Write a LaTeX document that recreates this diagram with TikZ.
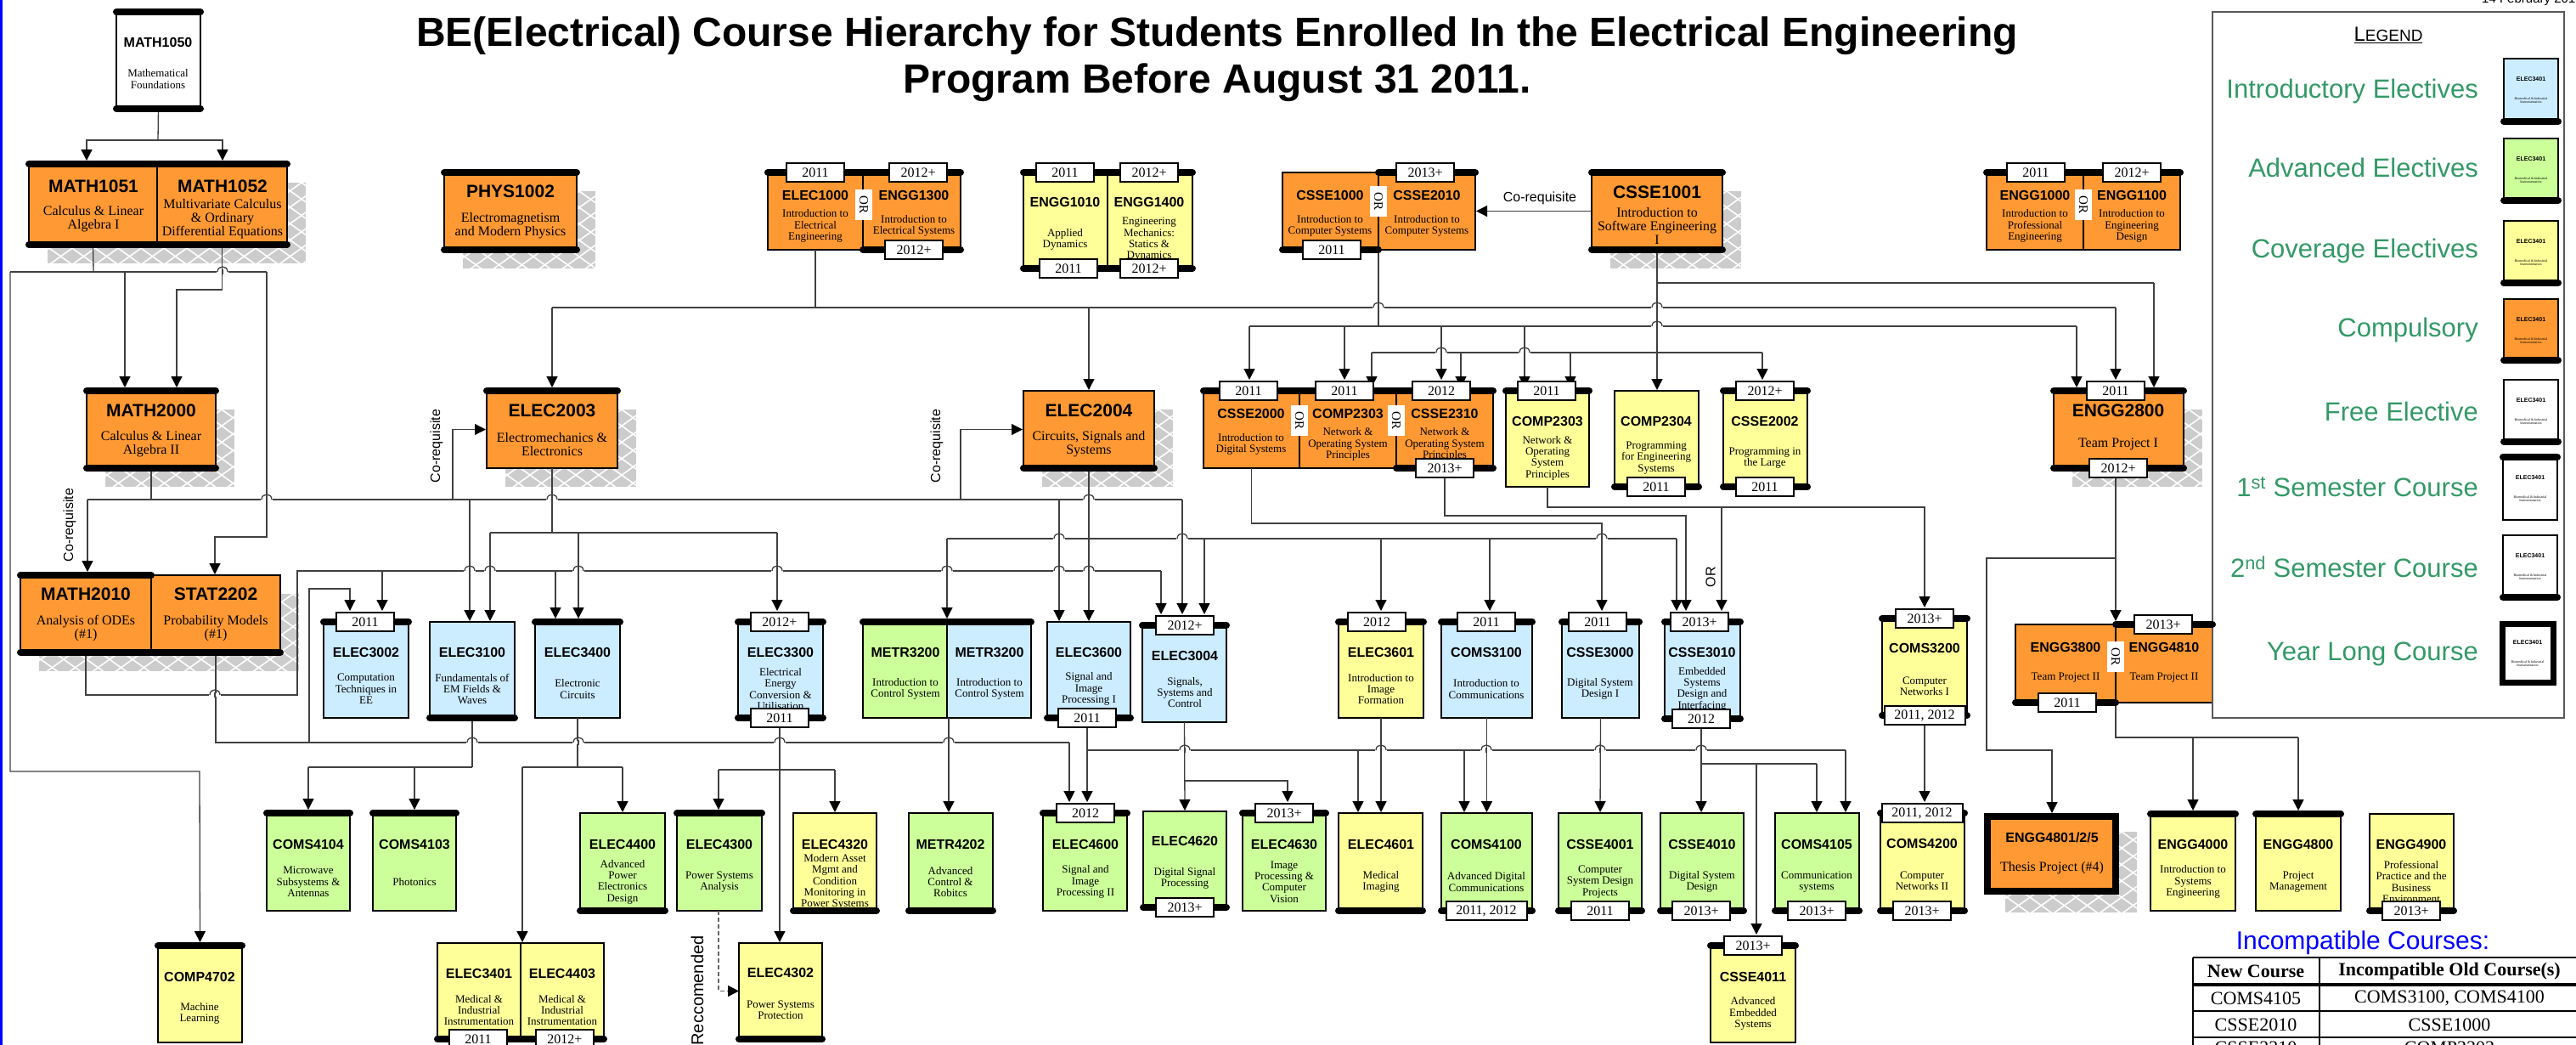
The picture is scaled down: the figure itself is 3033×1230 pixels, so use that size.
\documentclass[tikz,border=0pt]{standalone}
\usepackage{fontspec}
\setmainfont{Liberation Serif}
\setsansfont{Liberation Sans}
\usetikzlibrary{arrows.meta,fit}
\definecolor{cO}{RGB}{255,153,51}
\definecolor{cB}{RGB}{204,236,255}
\definecolor{cG}{RGB}{204,255,153}
\definecolor{cY}{RGB}{255,255,153}
\definecolor{cW}{RGB}{255,255,255}
\definecolor{legG}{RGB}{51,153,102}
\definecolor{shadc}{RGB}{204,204,204}
\newcommand\fCL{\fontsize{21}{21}\selectfont\sffamily\bfseries}
\newcommand\fCS{\fontsize{16}{16}\selectfont\sffamily\bfseries}
\newcommand\fDL{\fontsize{16}{16}\selectfont\rmfamily}
\newcommand\fDS{\fontsize{13}{13.4}\selectfont\rmfamily}
\newcommand\fTag{\fontsize{16}{16}\selectfont\rmfamily}
\newcommand\fLbl{\fontsize{16}{16}\selectfont\sffamily}
\newcommand\fLeg{\fontsize{31}{31}\selectfont\sffamily}
\tikzset{
  boxline/.style={draw=black,line width=2.5pt},
  bar/.style={draw=black,line width=8pt,line cap=round},
  wire/.style={draw=black!75,line width=1.3pt},
  arr/.style={wire,-{Triangle[length=13pt,width=13pt,color=black]},shorten >=1pt},
  arrb/.style={wire,-{Triangle[length=13pt,width=13pt,color=black]},shorten >=4pt},
  tagbox/.style={draw=black,line width=2pt,fill=white,minimum width=68pt,minimum height=22pt,inner sep=0pt,font=\fTag},
  widetag/.style={tagbox,minimum width=95pt},
  orbox/.style={fill=white,rotate=-90,inner xsep=8pt,inner ysep=5pt,font=\fontsize{15}{15}\selectfont\rmfamily},
  codeS/.style={font=\fCS,inner sep=0pt},
  codeL/.style={font=\fCL,inner sep=0pt},
  descS/.style={font=\fDS,align=center,inner sep=0pt},
  descL/.style={font=\fDL,align=center,inner sep=0pt},
  lbl/.style={font=\fLbl,inner sep=1pt},
  legtxt/.style={font=\fLeg,text=legG,anchor=east,inner sep=0pt},
}
\newcommand\crs[6]{%
  \filldraw[boxline,fill=#6] (#2,#3) rectangle (#4,#5);
  \node[inner sep=0pt,outer sep=0pt,fit={(#2,#3) (#4,#5)}] (#1) {};}
\newcommand\tbar[2]{\draw[bar] (#1.north west) -- (#2.north east);}
\newcommand\bbar[2]{\draw[bar] (#1.south west) -- (#2.south east);}
\newcommand\ytag[4]{\node[tagbox] (#1) at (#2,#3) {#4};}
\newcommand\wtag[4]{\node[widetag] (#1) at (#2,#3) {#4};}
\newcommand\crstx[6]{\node[codeS] (#1c) at (#2,#3) {#5};\node[descS] (#1d) at (#2,#4) {#6};}
\newcommand\crsTX[6]{\node[codeL] (#1c) at (#2,#3) {#5};\node[descL] (#1d) at (#2,#4) {#6};}
\newcommand\shadw[4]{\begin{scope}\clip (#1,#2) rectangle (#3,#4);
  \fill[shadc] (#1,#2) rectangle (#3,#4);
  \foreach \k in {-160,-133,...,480}{\draw[white,line width=1.6pt] (#1+\k,#2) -- ++(140,100);\draw[white,line width=1.6pt] (#1+\k,#2) -- ++(-140,100);}
  \end{scope}}
\newcommand\hopx[2]{\fill[white] (#1-6.8,#2-1.6) rectangle (#1+6.8,#2+1.6);
  \draw[wire] (#1,#2-3) -- (#1,#2+3);
  \draw[wire] (#1-6,#2) .. controls (#1-6,#2-8) and (#1+6,#2-8) .. (#1+6,#2);}
\newcommand\icontx[3]{\node[font=\fontsize{7}{7}\selectfont\sffamily\bfseries,inner sep=0pt] (#1c) at (#2,#3+24) {ELEC3401};
  \node[font=\fontsize{4}{4.6}\selectfont\rmfamily,align=center,inner sep=0pt] (#1d) at (#2,#3+49) {Biomedical \& Industrial\\Instrumentation};}
\begin{document}
\begin{tikzpicture}[x=1pt,y=-1pt]
\useasboundingbox (0,0) rectangle (3033,1230);
\fill[white] (0,0) rectangle (3033,1230);
\fill[blue] (0,0) rectangle (2.5,1230);
% ---------- shadows
\shadw{56}{215}{360}{310}
\shadw{545}{225}{701}{316}
\shadw{1896}{225}{2050}{316}
\shadw{124}{482}{276}{573}
\shadw{595}{482}{749}{573}
\shadw{1227}{482}{1381}{573}
\shadw{2440}{482}{2593}{573}
\shadw{46}{699}{352}{790}
\shadw{2361}{979}{2516}{1074}
% ---------- boxes
\crs{m1050}{137}{14}{236}{128}{cW}
\crs{m1051}{34}{193}{185}{288}{cO}
\crs{m1052}{185}{193}{338}{288}{cO}
\crs{phys1002}{523}{203}{679}{294}{cO}
\crs{elec1000}{904}{203}{1016}{294}{cO}
\crs{engg1300}{1016}{203}{1131}{294}{cO}
\crs{engg1010}{1205}{203}{1304}{316}{cY}
\crs{engg1400}{1304}{203}{1404}{316}{cY}
\crs{csse1000}{1510}{203}{1623}{294}{cO}
\crs{csse2010}{1623}{203}{1737}{294}{cO}
\crs{csse1001}{1874}{203}{2028}{294}{cO}
\crs{engg1000}{2339}{203}{2453}{294}{cO}
\crs{engg1100}{2453}{203}{2567}{294}{cO}
\crs{math2000}{102}{460}{254}{551}{cO}
\crs{elec2003}{573}{460}{727}{551}{cO}
\crs{elec2004}{1205}{460}{1359}{551}{cO}
\crs{csse2000}{1417}{460}{1530}{551}{cO}
\crs{comp2303a}{1530}{460}{1644}{551}{cO}
\crs{csse2310}{1644}{460}{1758}{551}{cO}
\crs{comp2303b}{1773}{460}{1871}{573}{cY}
\crs{comp2304}{1901}{460}{2000}{573}{cY}
\crs{csse2002}{2029}{460}{2128}{573}{cY}
\crs{engg2800}{2418}{460}{2571}{551}{cO}
\crs{math2010}{24}{677}{178}{768}{cO}
\crs{stat2202}{178}{677}{330}{768}{cO}
\crs{elec3002}{381}{732}{481}{845}{cB}
\crs{elec3100}{506}{732}{606}{845}{cB}
\crs{elec3400}{630}{732}{730}{845}{cB}
\crs{elec3300}{869}{732}{969}{845}{cB}
\crs{metr3200a}{1016}{732}{1115}{845}{cG}
\crs{metr3200b}{1115}{732}{1214}{845}{cB}
\crs{elec3600}{1233}{732}{1331}{845}{cB}
\crs{elec3004}{1345}{736}{1444}{850}{cB}
\crs{elec3601}{1576}{732}{1676}{845}{cY}
\crs{coms3100}{1697}{732}{1804}{845}{cB}
\crs{csse3000}{1839}{732}{1930}{845}{cB}
\crs{csse3010}{1960}{732}{2049}{846}{cB}
\crs{coms3200}{2216}{728}{2316}{842}{cY}
\crs{engg3800}{2373}{735}{2491}{827}{cO}
\crs{engg4810}{2491}{735}{2605}{827}{cO}
\crs{coms4104}{314}{957}{412}{1072}{cG}
\crs{coms4103}{439}{957}{537}{1072}{cG}
\crs{elec4400}{683}{957}{783}{1072}{cG}
\crs{elec4300}{797}{957}{897}{1072}{cG}
\crs{elec4320}{934}{957}{1032}{1072}{cY}
\crs{metr4202}{1070}{957}{1169}{1072}{cG}
\crs{elec4600}{1228}{957}{1327}{1072}{cG}
\crs{elec4620}{1346}{955}{1444}{1068}{cG}
\crs{elec4630}{1463}{957}{1561}{1072}{cG}
\crs{elec4601}{1576}{957}{1675}{1072}{cY}
\crs{coms4100}{1697}{957}{1804}{1072}{cG}
\crs{csse4001}{1835}{957}{1933}{1072}{cG}
\crs{csse4010}{1955}{957}{2053}{1072}{cG}
\crs{coms4105}{2090}{957}{2189}{1072}{cG}
\crs{coms4200}{2214}{957}{2313}{1072}{cY}
\filldraw[draw=black,line width=8pt,fill=cO] (2340,961) rectangle (2491,1049);
\node[inner sep=0pt,outer sep=0pt,fit={(2340,961) (2491,1049)}] (engg4801) {};
\crs{engg4000}{2532}{958}{2632}{1072}{cY}
\crs{engg4800}{2656}{958}{2756}{1072}{cY}
\crs{engg4900}{2790}{958}{2889}{1072}{cY}
\crs{comp4702}{186}{1113}{285}{1227}{cY}
\crs{elec3401}{515}{1110}{613}{1223}{cY}
\crs{elec4403}{613}{1110}{711}{1223}{cY}
\crs{elec4302}{870}{1110}{968}{1223}{cY}
\crs{csse4011}{2014}{1113}{2114}{1227}{cY}
% ---------- legend frame
\node[draw=black!65,line width=1.5pt,inner sep=0pt,fit={(2605,14) (3019,845)}] (legendbox) {};
% ---------- tags (defined early for wire ends, drawn later on top)
\begin{scope}[opacity=0]
\ytag{tgA}{1470}{460}{2011}
\ytag{tgB}{1583}{460}{2011}
\ytag{tgC}{1697}{460}{2012}
\ytag{tgD}{1701}{551}{2013+}
\ytag{tgE}{1821}{460}{2011}
\ytag{tgF}{2078}{460}{2012+}
\ytag{tgG}{2491}{460}{2011}
\ytag{tgH}{2494}{551}{2012+}
\ytag{tgI}{430}{732}{2011}
\ytag{tgJ}{918}{732}{2012+}
\ytag{tgK}{918}{845}{2011}
\ytag{tgL}{1280}{845}{2011}
\ytag{tgM}{1395}{736}{2012+}
\ytag{tgN}{1621}{732}{2012}
\ytag{tgO}{1750}{732}{2011}
\ytag{tgP}{1881}{732}{2011}
\ytag{tgQ}{2001}{732}{2013+}
\ytag{tgR}{2003}{846}{2012}
\ytag{tgS}{2266}{728}{2013+}
\wtag{tgT}{2266}{842}{2011, 2012}
\ytag{tgU}{1278}{957}{2012}
\ytag{tgV}{1512}{957}{2013+}
\wtag{tgW}{2263}{957}{2011, 2012}
\ytag{tgX}{2064}{1113}{2013+}
\end{scope}
% ---------- wires
\draw[wire] (m1050.south) -- (186,165);
\draw[arrb] (186,165) -| (102,0 |- m1051.north);
\draw[arrb] (186,165) -| (262,0 |- m1052.north);
\draw[wire] (m1051.south) -- (110,320);
\draw[wire] (12,320) -- (314,320);
\draw[arrb] (12,320) |- (235,908) -- (comp4702.north);
\draw[arrb] (147,320) -- (147,0 |- math2000.north);
\draw[arr] (314,320) |- (253,632) -- (253,0 |- stat2202.north);
\draw[arrb] (m1052.south) |- (208,341) -- (208,0 |- math2000.north);
\draw[wire] (elec1000.south) -- (960,362);
\draw[wire] (650,362) -- (2491,362);
\draw[arrb] (650,362) -- (elec2003.north);
\draw[arr] (1282,362) -- (elec2004.north);
\draw[arr] (2491,362) -- (tgG.north);
\draw[wire] (csse1000.south east) -- (1623,384);
\draw[wire] (1471,384) -- (2445,384);
\draw[arr] (1471,384) -- (1471,0 |- tgA.north);
\draw[arr] (1583,384) -- (1583,0 |- tgB.north);
\draw[arr] (1697,384) -- (1697,0 |- tgC.north);
\draw[arrb] (1795,384) -- (1795,0 |- comp2303b.north);
\draw[arrb] (2445,384) -- (2445,0 |- engg2800.north);
\draw[arr] (csse1001.south) -- (1951,0 |- comp2304.north);
\draw[wire] (1951,333) -- (2536,333);
\draw[arrb] (2536,333) -- (2536,0 |- engg2800.north);
\draw[wire] (1615,415) -- (2075,415);
\draw[arrb] (1615,415) -- (1615,0 |- comp2303a.north);
\draw[arrb] (1720,415) -- (1720,0 |- csse2310.north);
\draw[arrb] (1849,415) -- (1849,0 |- comp2303b.north);
\draw[arr] (2075,415) -- (2075,0 |- tgF.north);
\draw[arr] (csse1001.west) -- (csse2010.east);
\draw[wire] (math2000.south) -- (178,588);
\draw[wire] (103,588) -- (1392,588);
\draw[arrb] (103,588) -- (103,0 |- math2010.north);
\draw[arr] (533,588) |- (elec2003.west);
\draw[arr] (553,588) -- (553,0 |- elec3100.north);
\draw[arr] (1131,588) |- (elec2004.west);
\draw[arr] (1247,588) -- (1247,0 |- elec3600.north);
\draw[arr] (1392,588) -- (1392,0 |- tgM.north);
\draw[wire] (elec2003.south) -- (650,627);
\draw[wire] (577,627) -- (915,627);
\draw[arr] (577,627) -- (577,0 |- elec3100.north);
\draw[arrb] (681,627) -- (681,0 |- elec3400.north);
\draw[arr] (915,627) -- (915,0 |- tgJ.north);
\draw[arr] (elec2004.south) -- (1282,0 |- elec3600.north);
\draw[wire] (1115,634) -- (1974,634);
\draw[arrb] (1115,634) -- (1115,0 |- metr3200a.north);
\draw[arr] (1418,634) -- (1418,0 |- tgM.north);
\draw[arr] (1626,634) -- (1626,0 |- tgN.north);
\draw[arr] (1754,634) -- (1754,0 |- tgO.north);
\draw[arr] (1974,634) -- (1974,0 |- tgQ.north);
\draw[wire] (math2010.south) |- (350,818) -- (350,672) -- (1367,672);
\draw[arr] (450,672) -- (450,0 |- tgI.north);
\draw[arrb] (654,672) -- (654,0 |- elec3400.north);
\draw[arr] (1367,672) -- (1367,0 |- tgM.north);
\draw[wire] (stat2202.south) -- (254,874) -- (1259,874);
\draw[arr] (364,874) |- (412,693) -- (412,0 |- tgI.north);
\draw[arr] (1259,874) -- (1259,0 |- tgU.north);
\draw[wire] (elec3100.south) -- (556,903);
\draw[wire] (363,903) -- (556,903);
\draw[arrb] (363,903) -- (363,0 |- coms4104.north);
\draw[arrb] (488,903) -- (488,0 |- coms4103.north);
\draw[wire] (elec3400.south) -- (680,903);
\draw[wire] (615,903) -- (733,903);
\draw[arr] (615,903) -- (615,0 |- elec3401.north);
\draw[arr] (733,903) -- (733,0 |- elec4400.north);
\draw[arr] (tgK.south) -- (918,0 |- elec4302.north);
\draw[wire] (846,906) -- (983,906);
\draw[arrb] (846,906) -- (846,0 |- elec4300.north);
\draw[arr] (983,906) -- (983,0 |- elec4320.north);
\draw[wire,draw=black!60,dash pattern=on 5pt off 3pt,-{Triangle[length=13pt,width=13pt,color=black]}] (846,1072) |- (elec4302.west);
\draw[arr] (1117,845) -- (1117,0 |- metr4202.north);
\draw[arr] (tgL.south) -- (1280,0 |- tgU.north);
\draw[wire] (1280,883) -- (2173,883);
\draw[arr] (1599,883) -- (1599,0 |- elec4601.north);
\draw[arr] (1724,883) -- (1724,0 |- coms4100.north);
\draw[arr] (2173,883) -- (2173,0 |- coms4105.north);
\draw[arr] (elec3004.south) -- (1395,0 |- elec4620.north);
\draw[arr] (1395,919) -- (1516,919) -- (1516,0 |- tgV.north);
\draw[arr] (elec3601.south) -- (1626,0 |- elec4601.north);
\draw[arr] (coms3100.south) -- (coms4100.north);
\draw[arr] (csse3000.south) -- (1884,0 |- csse4001.north);
\draw[arr] (tgR.south) -- (2003,0 |- csse4010.north);
\draw[wire] (2003,899) -- (2139,899);
\draw[arr] (2139,899) -- (2139,0 |- coms4105.north);
\draw[arr] (2068,899) -- (2068,0 |- tgX.north);
\draw[arr] (tgT.south) -- (2266,0 |- tgW.north);
\draw[arr] (csse2000.south) |- (1886,616) -- (1886,0 |- tgP.north);
\draw[arr] (tgD.south) |- (1985,607) -- (1985,0 |- tgQ.north);
\draw[arr] (comp2303b.south) |- (2266,597) -- (2266,0 |- tgS.north);
\draw[arr] (2027,597) -- (2027,0 |- tgQ.north);
\draw[arrb] (2491,0 |- tgH.south) -- (2491,0 |- engg4810.north);
\draw[arrb] (2491,657) -| (2339,883) -| (2416,0 |- engg4801.north);
\draw[wire] (2491,827) -- (2491,868) -- (2706,868);
\draw[arrb] (2582,868) -- (2582,0 |- engg4000.north);
\draw[arrb] (2706,868) -- (2706,0 |- engg4800.north);
% ---------- hops
\hopx{262}{320}
\hopx{1623}{362}\hopx{1951}{362}
\hopx{1951}{384}
\hopx{1697}{415}\hopx{1795}{415}
\hopx{314}{588}\hopx{650}{588}\hopx{1282}{588}
\hopx{1247}{634}\hopx{1392}{634}\hopx{1886}{634}
\hopx{553}{672}\hopx{577}{672}\hopx{681}{672}\hopx{915}{672}\hopx{1115}{672}\hopx{1247}{672}\hopx{1282}{672}
\hopx{253}{818}
\hopx{556}{874}\hopx{681}{874}\hopx{918}{874}\hopx{1117}{874}
\hopx{1395}{883}\hopx{1626}{883}\hopx{1750}{883}\hopx{1884}{883}\hopx{2003}{883}
% ---------- bars
\tbar{m1050}{m1050}\bbar{m1050}{m1050}
\tbar{m1051}{m1052}\bbar{m1051}{m1052}
\tbar{phys1002}{phys1002}\bbar{phys1002}{phys1002}
\tbar{elec1000}{engg1300}\bbar{engg1300}{engg1300}
\tbar{engg1010}{engg1400}\bbar{engg1010}{engg1400}
\bbar{csse1000}{csse1000}\tbar{csse2010}{csse2010}
\tbar{csse1001}{csse1001}\bbar{csse1001}{csse1001}
\tbar{engg1000}{engg1100}
\tbar{math2000}{math2000}\bbar{math2000}{math2000}
\tbar{elec2003}{elec2003}
\bbar{elec2004}{elec2004}
\tbar{csse2000}{csse2310}\bbar{csse2310}{csse2310}
\tbar{comp2303b}{comp2303b}
\bbar{comp2304}{comp2304}
\tbar{csse2002}{csse2002}\bbar{csse2002}{csse2002}
\tbar{engg2800}{engg2800}\bbar{engg2800}{engg2800}
\tbar{math2010}{math2010}\bbar{math2010}{stat2202}
\tbar{elec3002}{elec3002}
\bbar{elec3100}{elec3100}
\tbar{elec3400}{elec3400}
\tbar{elec3300}{elec3300}\bbar{elec3300}{elec3300}
\tbar{metr3200a}{metr3200b}
\bbar{elec3600}{elec3600}
\tbar{elec3004}{elec3004}
\tbar{elec3601}{elec3601}
\tbar{coms3100}{coms3100}
\tbar{csse3000}{csse3000}
\tbar{csse3010}{csse3010}\bbar{csse3010}{csse3010}
\tbar{coms3200}{coms3200}\bbar{coms3200}{coms3200}
\tbar{engg4810}{engg4810}\bbar{engg3800}{engg3800}
\tbar{coms4104}{coms4104}\tbar{coms4103}{coms4103}
\bbar{elec4400}{elec4400}\tbar{elec4300}{elec4300}\bbar{elec4320}{elec4320}\bbar{metr4202}{metr4202}
\tbar{elec4600}{elec4600}\bbar{elec4620}{elec4620}\tbar{elec4630}{elec4630}
\bbar{elec4601}{elec4601}\bbar{coms4100}{coms4100}\bbar{csse4001}{csse4001}\bbar{csse4010}{csse4010}\bbar{coms4105}{coms4105}
\tbar{coms4200}{coms4200}\bbar{coms4200}{coms4200}
\tbar{engg4000}{engg4000}\tbar{engg4800}{engg4800}\bbar{engg4900}{engg4900}
\tbar{comp4702}{comp4702}
\bbar{elec3401}{elec4403}
\bbar{elec4302}{elec4302}
\tbar{csse4011}{csse4011}
% ---------- course texts
\crstx{m1050}{186}{50}{93}{MATH1050}{Mathematical\\Foundations}
\crsTX{m1051}{110}{219}{258}{MATH1051}{Calculus \& Linear\\Algebra I}
\crsTX{m1052}{262}{219}{258}{MATH1052}{Multivariate Calculus\\\& Ordinary\\Differential Equations}
\crsTX{phys1002}{601}{225}{266}{PHYS1002}{Electromagnetism\\and Modern Physics}
\crstx{elec1000}{960}{230}{266}{ELEC1000}{Introduction to\\Electrical\\Engineering}
\crstx{engg1300}{1076}{230}{266}{ENGG1300}{Introduction to\\Electrical Systems}
\crstx{engg1010}{1254}{238}{282}{ENGG1010}{Applied\\Dynamics}
\crstx{engg1400}{1353}{238}{282}{ENGG1400}{Engineering\\Mechanics:\\Statics \&\\Dynamics}
\crstx{csse1000}{1566}{230}{266}{CSSE1000}{Introduction to\\Computer Systems}
\crstx{csse2010}{1680}{230}{266}{CSSE2010}{Introduction to\\Computer Systems}
\crsTX{csse1001}{1951}{226}{266}{CSSE1001}{Introduction to\\Software Engineering\\I}
\crstx{engg1000}{2396}{230}{266}{ENGG1000}{Introduction to\\Professional\\Engineering}
\crstx{engg1100}{2510}{230}{266}{ENGG1100}{Introduction to\\Engineering\\Design}
\crsTX{math2000}{178}{483}{523}{MATH2000}{Calculus \& Linear\\Algebra II}
\crsTX{elec2003}{650}{483}{523}{ELEC2003}{Electromechanics \&\\Electronics}
\crsTX{elec2004}{1282}{483}{523}{ELEC2004}{Circuits, Signals and\\Systems}
\crstx{csse2000}{1473}{487}{523}{CSSE2000}{Introduction to\\Digital Systems}
\crstx{comp2303a}{1587}{487}{523}{COMP2303}{Network \&\\Operating System\\Principles}
\crstx{csse2310}{1701}{487}{523}{CSSE2310}{Network \&\\Operating System\\Principles}
\crstx{comp2303b}{1822}{496}{539}{COMP2303}{Network \&\\Operating\\System\\Principles}
\crstx{comp2304}{1950}{496}{539}{COMP2304}{Programming\\for Engineering\\Systems}
\crstx{csse2002}{2078}{496}{539}{CSSE2002}{Programming in\\the Large}
\crsTX{engg2800}{2494}{483}{523}{ENGG2800}{Team Project I}
\crsTX{math2010}{101}{699}{740}{MATH2010}{Analysis of ODEs\\(\#1)}
\crsTX{stat2202}{254}{699}{740}{STAT2202}{Probability Models\\(\#1)}
\crstx{elec3002}{431}{768}{811}{ELEC3002}{Computation\\Techniques in\\EE}
\crstx{elec3100}{556}{768}{811}{ELEC3100}{Fundamentals of\\EM Fields \&\\Waves}
\crstx{elec3400}{680}{768}{811}{ELEC3400}{Electronic\\Circuits}
\crstx{elec3300}{919}{768}{811}{ELEC3300}{Electrical\\Energy\\Conversion \&\\Utilisation}
\crstx{metr3200a}{1066}{768}{811}{METR3200}{Introduction to\\Control System}
\crstx{metr3200b}{1165}{768}{811}{METR3200}{Introduction to\\Control System}
\crstx{elec3600}{1282}{768}{811}{ELEC3600}{Signal and\\Image\\Processing I}
\crstx{elec3004}{1395}{772}{815}{ELEC3004}{Signals,\\Systems and\\Control}
\crstx{elec3601}{1626}{768}{811}{ELEC3601}{Introduction to\\Image\\Formation}
\crstx{coms3100}{1750}{768}{811}{COMS3100}{Introduction to\\Communications}
\crstx{csse3000}{1884}{768}{811}{CSSE3000}{Digital System\\Design I}
\crstx{csse3010}{2004}{768}{811}{CSSE3010}{Embedded\\Systems\\Design and\\Interfacing}
\crstx{coms3200}{2266}{763}{808}{COMS3200}{Computer\\Networks I}
\crstx{engg3800}{2432}{762}{798}{ENGG3800}{Team Project II}
\crstx{engg4810}{2548}{762}{798}{ENGG4810}{Team Project II}
\crstx{coms4104}{363}{994}{1038}{COMS4104}{Microwave\\Subsystems \&\\Antennas}
\crstx{coms4103}{488}{994}{1038}{COMS4103}{Photonics}
\crstx{elec4400}{733}{994}{1038}{ELEC4400}{Advanced\\Power\\Electronics\\Design}
\crstx{elec4300}{847}{994}{1038}{ELEC4300}{Power Systems\\Analysis}
\crstx{elec4320}{983}{994}{1038}{ELEC4320}{Modern Asset\\Mgmt and\\Condition\\Monitoring in\\Power Systems}
\crstx{metr4202}{1119}{994}{1038}{METR4202}{Advanced\\Control \&\\Robitcs}
\crstx{elec4600}{1278}{994}{1038}{ELEC4600}{Signal and\\Image\\Processing II}
\crstx{elec4620}{1395}{990}{1034}{ELEC4620}{Digital Signal\\Processing}
\crstx{elec4630}{1512}{994}{1038}{ELEC4630}{Image\\Processing \&\\Computer\\Vision}
\crstx{elec4601}{1626}{994}{1038}{ELEC4601}{Medical\\Imaging}
\crstx{coms4100}{1750}{994}{1038}{COMS4100}{Advanced Digital\\Communications}
\crstx{csse4001}{1884}{994}{1038}{CSSE4001}{Computer\\System Design\\Projects}
\crstx{csse4010}{2004}{994}{1038}{CSSE4010}{Digital System\\Design}
\crstx{coms4105}{2139}{994}{1038}{COMS4105}{Communication\\systems}
\crstx{coms4200}{2263}{993}{1037}{COMS4200}{Computer\\Networks II}
\node[codeS] (engg4801c) at (2416,986) {ENGG4801/2/5};
\node[descL] (engg4801d) at (2416,1022) {Thesis Project (\#4)};
\crstx{engg4000}{2582}{994}{1038}{ENGG4000}{Introduction to\\Systems\\Engineering}
\crstx{engg4800}{2706}{994}{1038}{ENGG4800}{Project\\Management}
\crstx{engg4900}{2839}{994}{1038}{ENGG4900}{Professional\\Practice and the\\Business\\Environment}
\crstx{comp4702}{235}{1150}{1193}{COMP4702}{Machine\\Learning}
\crstx{elec3401}{564}{1146}{1189}{ELEC3401}{Medical \&\\Industrial\\Instrumentation}
\crstx{elec4403}{662}{1146}{1189}{ELEC4403}{Medical \&\\Industrial\\Instrumentation}
\crstx{elec4302}{919}{1145}{1189}{ELEC4302}{Power Systems\\Protection}
\crstx{csse4011}{2064}{1150}{1193}{CSSE4011}{Advanced\\Embedded\\Systems}
% ---------- visible tags
\ytag{tg1}{960}{203}{2011}
\ytag{tg2}{1081}{203}{2012+}
\ytag{tg3}{1076}{294}{2012+}
\ytag{tg4}{1254}{203}{2011}
\ytag{tg5}{1353}{203}{2012+}
\ytag{tg6}{1258}{316}{2011}
\ytag{tg7}{1353}{316}{2012+}
\ytag{tg8}{1568}{294}{2011}
\ytag{tg9}{1678}{203}{2013+}
\ytag{tg10}{2397}{203}{2011}
\ytag{tg11}{2510}{203}{2012+}
\ytag{tgAv}{1470}{460}{2011}
\ytag{tgBv}{1583}{460}{2011}
\ytag{tgCv}{1697}{460}{2012}
\ytag{tgDv}{1701}{551}{2013+}
\ytag{tgEv}{1821}{460}{2011}
\ytag{tg17}{1950}{573}{2011}
\ytag{tgFv}{2078}{460}{2012+}
\ytag{tg19}{2078}{573}{2011}
\ytag{tgGv}{2491}{460}{2011}
\ytag{tgHv}{2494}{551}{2012+}
\ytag{tgIv}{430}{732}{2011}
\ytag{tgJv}{918}{732}{2012+}
\ytag{tgKv}{918}{845}{2011}
\ytag{tgLv}{1280}{845}{2011}
\ytag{tgMv}{1395}{736}{2012+}
\ytag{tgNv}{1621}{732}{2012}
\ytag{tgOv}{1750}{732}{2011}
\ytag{tgPv}{1881}{732}{2011}
\ytag{tgQv}{2001}{732}{2013+}
\ytag{tgRv}{2003}{846}{2012}
\ytag{tgSv}{2266}{728}{2013+}
\wtag{tgTv}{2266}{842}{2011, 2012}
\ytag{tg34}{2547}{735}{2013+}
\ytag{tg35}{2434}{827}{2011}
\ytag{tgUv}{1278}{957}{2012}
\ytag{tg37}{1395}{1068}{2013+}
\ytag{tgVv}{1512}{957}{2013+}
\wtag{tg39}{1750}{1072}{2011, 2012}
\ytag{tg40}{1884}{1072}{2011}
\ytag{tg41}{2003}{1072}{2013+}
\ytag{tg42}{2139}{1072}{2013+}
\wtag{tgWv}{2263}{957}{2011, 2012}
\ytag{tg44}{2263}{1072}{2013+}
\ytag{tg45}{2839}{1072}{2013+}
\ytag{tg46}{563}{1223}{2011}
\ytag{tg47}{665}{1223}{2012+}
\ytag{tgXv}{2064}{1113}{2013+}
% ---------- OR boxes
\node[orbox] (or1) at (1017,241) {OR};
\node[orbox] (or2) at (1623,237) {OR};
\node[orbox] (or3) at (2453,241) {OR};
\node[orbox] (or4) at (1530,495) {OR};
\node[orbox] (or5) at (1644,495) {OR};
\node[orbox] (or6) at (2491,773) {OR};
% ---------- labels
\node[lbl] (lco1) at (1813,233) {Co-requisite};
\node[lbl,rotate=90] (lco2) at (82,618) {Co-requisite};
\node[lbl,rotate=90] (lco3) at (514,525) {Co-requisite};
\node[lbl,rotate=90] (lco4) at (1103,525) {Co-requisite};
\node[lbl,rotate=90] (lor) at (2014,679) {OR};
\node[font=\fontsize{20}{20}\selectfont\sffamily,rotate=90,inner sep=0pt] (lrec) at (821,1166) {Reccomended};
% ---------- title and date
\node[font=\fontsize{48}{55}\selectfont\sffamily\bfseries,align=center,inner sep=0pt] (title) at (1433,70) {BE(Electrical) Course Hierarchy for Students Enrolled In the Electrical Engineering\\Program Before August 31 2011.};
\node[font=\fontsize{15}{15}\selectfont\sffamily,anchor=base west,inner sep=0pt] (date) at (2922,4) {14 February 2012};
% ---------- legend
\node[font=\sffamily,inner sep=0pt] (legtitle) at (2812,41) {\underline{{\fontsize{24}{24}\selectfont L}{\fontsize{19}{19}\selectfont EGEND}}};
\crs{lgA}{2948}{69}{3012}{143}{cB}\bbar{lgA}{lgA}\icontx{lgA}{2980}{69}
\crs{lgB}{2948}{163}{3012}{236}{cG}\bbar{lgB}{lgB}\icontx{lgB}{2980}{163}
\crs{lgC}{2948}{260}{3012}{333}{cY}\bbar{lgC}{lgC}\icontx{lgC}{2980}{260}
\crs{lgD}{2948}{352}{3012}{424}{cO}\bbar{lgD}{lgD}\icontx{lgD}{2980}{352}
\crs{lgE}{2948}{447}{3012}{520}{cW}\bbar{lgE}{lgE}\icontx{lgE}{2980}{447}
\crs{lgF}{2947}{538}{3011}{612}{cW}\tbar{lgF}{lgF}\icontx{lgF}{2979}{538}
\crs{lgG}{2947}{630}{3011}{703}{cW}\bbar{lgG}{lgG}\icontx{lgG}{2979}{630}
\filldraw[draw=black,line width=7pt,fill=white] (2946,734) rectangle (3006,803);
\node[inner sep=0pt,fit={(2946,734) (3006,803)}] (lgH) {};
\icontx{lgH}{2976}{732}
\node[legtxt] (ltA) at (2918,107) {Introductory Electives};
\node[legtxt] (ltB) at (2918,197) {Advanced Electives};
\node[legtxt] (ltC) at (2918,295) {Coverage Electives};
\node[legtxt] (ltD) at (2918,388) {Compulsory};
\node[legtxt] (ltE) at (2918,484) {Free Elective};
\node[legtxt] (ltF) at (2918,573) {1\textsuperscript{st} Semester Course};
\node[legtxt] (ltG) at (2918,667) {2\textsuperscript{nd} Semester Course};
\node[legtxt] (ltH) at (2918,770) {Year Long Course};
% ---------- incompatible table
\node[font=\fontsize{30}{30}\selectfont\sffamily,text=blue,inner sep=0pt] (inctitle) at (2782,1110) {Incompatible Courses:};
\draw[line width=2pt] (2582,1127) -- (3040,1127);
\draw[line width=4pt] (2582,1159) -- (3040,1159);
\draw[line width=2pt] (2582,1190) -- (3040,1190);
\draw[line width=2pt] (2582,1221) -- (3040,1221);
\draw[line width=2pt] (2582,1127) -- (2582,1240);
\draw[line width=2pt] (2731,1127) -- (2731,1240);
\node[font=\fontsize{22}{22}\selectfont\bfseries,inner sep=0pt] (th1) at (2656,1143) {New Course};
\node[font=\fontsize{22}{22}\selectfont\bfseries,inner sep=0pt] (th2) at (2884,1143) {Incompatible Old Course(s)};
\node[font=\fontsize{22}{22}\selectfont,inner sep=0pt] (r1a) at (2656,1175) {COMS4105};
\node[font=\fontsize{22}{22}\selectfont,inner sep=0pt] (r1b) at (2884,1175) {COMS3100, COMS4100};
\node[font=\fontsize{22}{22}\selectfont,inner sep=0pt] (r2a) at (2656,1206) {CSSE2010};
\node[font=\fontsize{22}{22}\selectfont,inner sep=0pt] (r2b) at (2884,1206) {CSSE1000};
\node[font=\fontsize{22}{22}\selectfont,inner sep=0pt] (r3a) at (2656,1233) {CSSE2310};
\node[font=\fontsize{22}{22}\selectfont,inner sep=0pt] (r3b) at (2884,1233) {COMP2303};
\end{tikzpicture}
\end{document}
